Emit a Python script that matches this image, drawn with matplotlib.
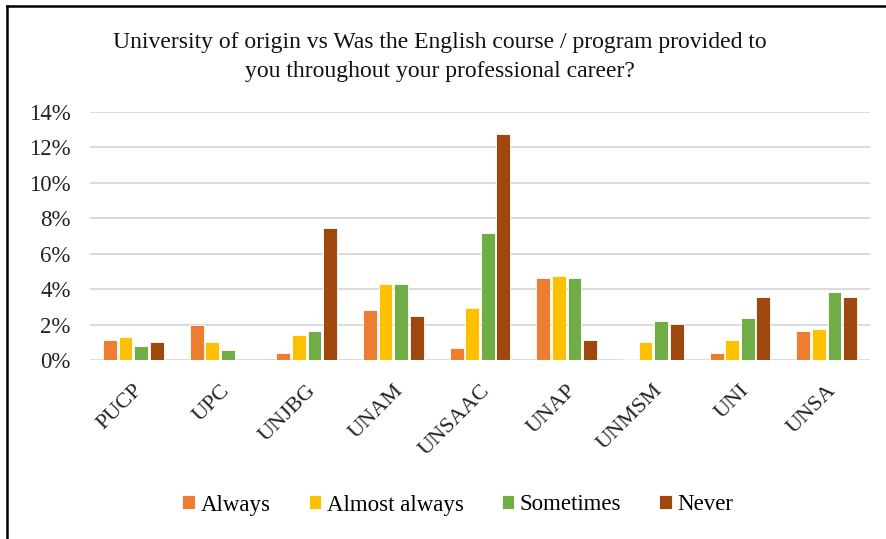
import matplotlib
matplotlib.use("Agg")
import matplotlib.pyplot as plt
import numpy as np
from matplotlib.lines import Line2D
from matplotlib.ticker import FuncFormatter

categories = ["PUCP", "UPC", "UNJBG", "UNAM", "UNSAAC", "UNAP", "UNMSM", "UNI", "UNSA"]
always = [1.14, 2.00, 0.41, 2.82, 0.68, 4.62, 0.07, 0.41, 1.63]
almost_always = [1.30, 1.01, 1.43, 4.30, 2.95, 4.76, 1.01, 1.16, 1.76]
sometimes = [0.81, 0.56, 1.63, 4.30, 7.17, 4.62, 2.21, 2.36, 3.83]
never = [1.01, 0.00, 7.45, 2.50, 12.73, 1.16, 2.03, 3.56, 3.56]
series_names = ["Always", "Almost always", "Sometimes", "Never"]
colors = ["#ED7D31", "#FFC000", "#70AD47", "#9E480E"]

plt.rcParams['font.family'] = ['Liberation Serif', 'DejaVu Serif']

fig = plt.figure(figsize=(8.86, 5.39), dpi=100)
W, H = 886, 539
ax = fig.add_axes([90 / W, 1 - 360.3 / H, 780 / W, (360.3 - 111.7) / H])

x = np.arange(len(categories))
bw = 0.16
step = 0.18
for i, (vals, name, c) in enumerate(zip([always, almost_always, sometimes, never], series_names, colors)):
    ax.bar(x + (i - 1.5) * step, vals, width=bw, color=c, edgecolor="white", linewidth=0.6, label=name, zorder=3)

ax.set_ylim(0, 14)
ax.set_xlim(-0.5, len(categories) - 0.5)
ax.set_yticks(np.arange(0, 15, 2))
ax.yaxis.set_major_formatter(FuncFormatter(lambda v, p: f"{int(v)}%"))
ax.grid(axis="y", color="#D9D9D9", linewidth=1.3, zorder=0)
for s in ax.spines.values():
    s.set_visible(False)
ax.tick_params(axis="both", length=0, colors="#222222")
ax.tick_params(axis="y", pad=14, labelsize=16.5)
ax.set_xticks(x)
ax.set_xticklabels(categories, rotation=45, ha="right", rotation_mode="anchor", fontsize=16)
ax.tick_params(axis="x", pad=15)

fig.text(440 / W, 1 - 57 / H, "University of origin vs Was the English course / program provided to\nyou throughout your professional career?",
         ha="center", va="center", fontsize=17, linespacing=1.5, color="#111111")

leg = fig.legend(loc="center", bbox_to_anchor=(458 / W, 1 - 505 / H), ncol=4, frameon=False,
                 fontsize=16.5, handlelength=0.55, handleheight=0.55, handletextpad=0.25, columnspacing=1.65)

fig.add_artist(Line2D([7 / W, 7 / W], [0, 1 - 6 / H], transform=fig.transFigure, color="black", linewidth=1.8))
fig.add_artist(Line2D([7 / W, 1], [1 - 6 / H, 1 - 6 / H], transform=fig.transFigure, color="black", linewidth=1.8))

fig.savefig("out.png", dpi=100)
